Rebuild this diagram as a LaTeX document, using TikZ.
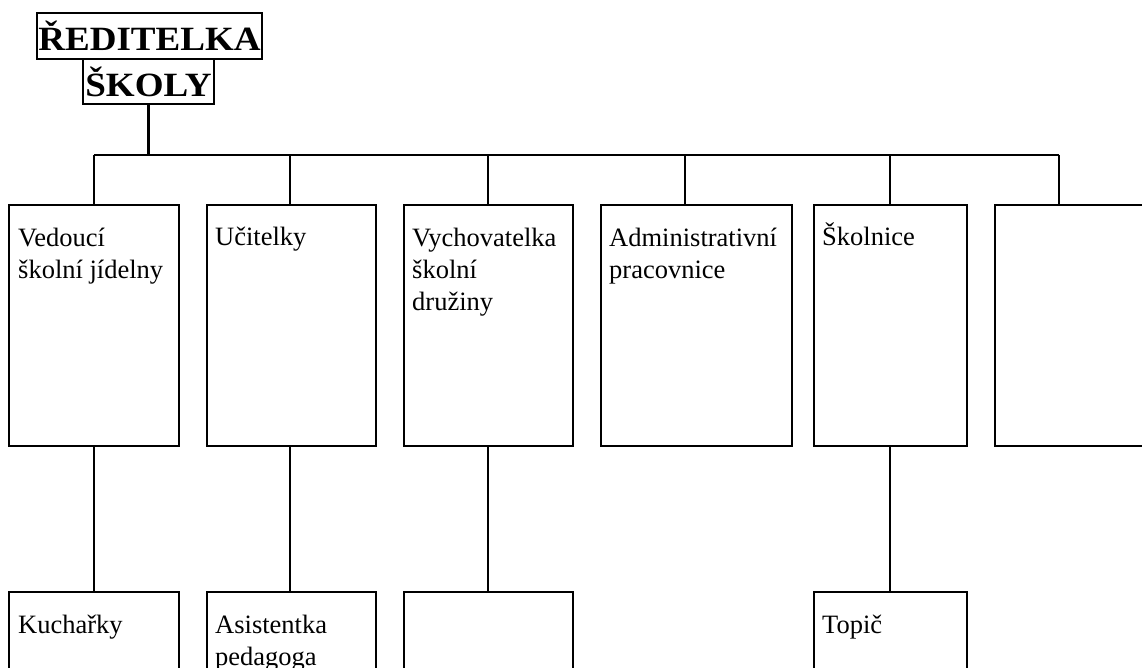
\documentclass[tikz,border=0pt]{standalone}
\usepackage{fontspec}
\setmainfont{Liberation Serif}
\begin{document}
\begin{tikzpicture}[x=1pt,y=-1pt,
  frame/.style={draw, line width=2.2pt, inner sep=0pt, anchor=north west},
  lbl/.style={anchor=base west, inner sep=0pt, align=left,
    font=\fontsize{26.5}{32}\selectfont},
  ttl/.style={draw, line width=2.2pt, inner sep=0pt,
    font=\bfseries\fontsize{34}{36}\selectfont},
  wire/.style={line width=2.2pt}]
\useasboundingbox (0,0) rectangle (1142,668);
\clip (0,0) rectangle (1142,668);

% title
\node[ttl, minimum width=225pt, minimum height=46pt] (t1) at (149.5,36) {\scalebox{1.09}[1]{ŘEDITELKA}};
\node[ttl, minimum width=131pt, minimum height=45pt] (t2) at (148.5,81.5) {\scalebox{1.09}[1]{ŠKOLY}};

% top row boxes
\node[frame, minimum width=170pt, minimum height=241pt] (b1) at (8,204) {};
\node[frame, minimum width=169pt, minimum height=241pt] (b2) at (206,204) {};
\node[frame, minimum width=169pt, minimum height=241pt] (b3) at (403,204) {};
\node[frame, minimum width=191pt, minimum height=241pt] (b4) at (600,204) {};
\node[frame, minimum width=153pt, minimum height=241pt] (b5) at (813,204) {};
\node[frame, minimum width=170pt, minimum height=241pt] (b6) at (994,204) {};

% bottom row boxes
\node[frame, minimum width=170pt, minimum height=110pt] (k1) at (8,591) {};
\node[frame, minimum width=169pt, minimum height=110pt] (k2) at (206,591) {};
\node[frame, minimum width=169pt, minimum height=110pt] (k3) at (403,591) {};
\node[frame, minimum width=153pt, minimum height=110pt] (k5) at (813,591) {};

% labels (base = baseline of the last line)
\node[lbl] (l1) at (18,278) {Vedoucí\\školní jídelny};
\node[lbl] (l2) at (215,246) {Učitelky};
\node[lbl] (l3) at (412,310) {Vychovatelka\\školní\\družiny};
\node[lbl] (l4) at (609,278) {Administrativní\\pracovnice};
\node[lbl] (l5) at (822,246) {Školnice};
\node[lbl] (m1) at (18,633) {Kuchařky};
\node[lbl] (m2) at (215,665) {Asistentka\\pedagoga};
\node[lbl] (m5) at (822,633) {Topič};

% bus
\coordinate (c1) at (94,155);
\coordinate (c2) at (290,155);
\coordinate (c3) at (488,155);
\coordinate (c4) at (685,155);
\coordinate (c5) at (890,155);
\coordinate (c6) at (1059,155);
\draw[wire] (t2.south) -- (t2.south |- c1);
\draw[wire] (c1) -- (c6);
\foreach \i in {1,...,6} {\draw[wire] (c\i) -- (c\i |- b\i.north);}
\foreach \i in {1,2,3,5} {\draw[wire] (c\i |- b\i.south) -- (c\i |- k\i.north);}
\end{tikzpicture}
\end{document}
